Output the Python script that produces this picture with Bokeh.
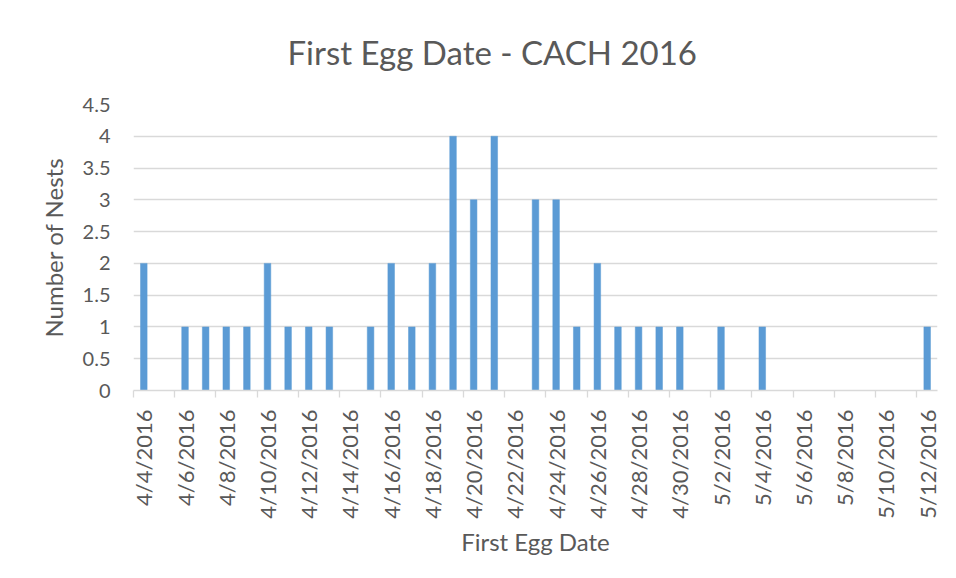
import math
import pandas as pd
from bokeh.plotting import figure
from bokeh.models import Range1d, FixedTicker, Title, ColumnDataSource, NumeralTickFormatter
from bokeh.embed import file_html
from bokeh.resources import INLINE

# ---- data ----
egg_dates = ["4/4/2016", "4/6/2016", "4/7/2016", "4/8/2016", "4/9/2016", "4/10/2016",
             "4/11/2016", "4/12/2016", "4/13/2016", "4/15/2016", "4/16/2016", "4/17/2016",
             "4/18/2016", "4/19/2016", "4/20/2016", "4/21/2016", "4/23/2016", "4/24/2016",
             "4/25/2016", "4/26/2016", "4/27/2016", "4/28/2016", "4/29/2016", "4/30/2016",
             "5/2/2016", "5/4/2016", "5/12/2016"]
nest_counts = [2, 1, 1, 1, 1, 2,
               1, 1, 1, 1, 2, 1,
               2, 4, 3, 4, 3, 3,
               1, 2, 1, 1, 1, 1,
               1, 1, 1]
tick_labels = ["4/4/2016", "4/6/2016", "4/8/2016", "4/10/2016", "4/12/2016", "4/14/2016",
               "4/16/2016", "4/18/2016", "4/20/2016", "4/22/2016", "4/24/2016", "4/26/2016",
               "4/28/2016", "4/30/2016", "5/2/2016", "5/4/2016", "5/6/2016", "5/8/2016",
               "5/10/2016", "5/12/2016"]
y_ticks = [0, 0.5, 1, 1.5, 2, 2.5, 3, 3.5, 4, 4.5]
axis_start = "4/4/2016"
axis_end = "5/12/2016"

TEXT = "#595959"
GRID = "#D9D9D9"
BAR = "#5B9BD5"
FONT = "Lato"

start = pd.to_datetime(axis_start, format="%m/%d/%Y")


def day_index(s):
    return int((pd.to_datetime(s, format="%m/%d/%Y") - start).days)


x_days = [day_index(d) for d in egg_dates]
tick_pos = [day_index(t) for t in tick_labels]
n_days = day_index(axis_end)

src = ColumnDataSource(dict(x=x_days, top=nest_counts))

p = figure(width=950, height=576,
           x_range=Range1d(-0.5, n_days + 0.5), y_range=Range1d(0, 4.5),
           output_backend="svg", toolbar_location=None,
           min_border_left=133, min_border_right=13, min_border_top=104, min_border_bottom=186)
p.outline_line_color = None
p.background_fill_color = "white"
p.border_fill_color = "white"

p.vbar(x="x", top="top", width=0.32, source=src, fill_color=BAR, line_color=BAR, line_width=0.5)

# grid
p.xgrid.visible = False
p.ygrid.ticker = FixedTicker(ticks=y_ticks)
p.ygrid.grid_line_color = GRID
p.ygrid.grid_line_width = 1.3

# y axis
ya = p.yaxis[0]
ya.ticker = FixedTicker(ticks=y_ticks)
ya.formatter = NumeralTickFormatter(format="0.[0]")
ya.axis_line_color = None
ya.major_tick_line_color = None
ya.minor_tick_line_color = None
ya.major_tick_out = 0
ya.major_tick_in = 0
ya.major_label_standoff = 23
ya.major_label_text_font = FONT
ya.major_label_text_font_size = "20px"
ya.major_label_text_color = TEXT
ya.axis_label = "Number of Nests"
ya.axis_label_text_font = FONT
ya.axis_label_text_font_size = "24px"
ya.axis_label_text_font_style = "normal"
ya.axis_label_text_color = TEXT
ya.axis_label_standoff = 12

# x axis
xa = p.xaxis[0]
xa.ticker = FixedTicker(ticks=tick_pos, minor_ticks=[t - 0.5 for t in tick_pos])
xa.major_label_overrides = {t: lab for t, lab in zip(tick_pos, tick_labels)}
xa.major_label_orientation = math.pi / 2
xa.axis_line_color = GRID
xa.axis_line_width = 1.3
xa.major_tick_line_color = None
xa.major_tick_out = 0
xa.major_tick_in = 0
xa.minor_tick_line_color = GRID
xa.minor_tick_line_width = 1.3
xa.minor_tick_out = 7
xa.minor_tick_in = 0
xa.major_label_standoff = 12
xa.major_label_text_font = FONT
xa.major_label_text_font_size = "22px"
xa.major_label_text_color = TEXT
xa.axis_label = "First Egg Date"
xa.axis_label_text_font = FONT
xa.axis_label_text_font_size = "24px"
xa.axis_label_text_font_style = "normal"
xa.axis_label_text_color = TEXT
xa.axis_label_standoff = 5

# title
title = Title(text="First Egg Date - CACH 2016", align="left", offset=154, standoff=62,
              vertical_align="top",
              text_font=FONT, text_font_size="33px", text_font_style="normal", text_color=TEXT)
p.add_layout(title, "above")

open("out.html", "w").write(file_html(p, INLINE))
